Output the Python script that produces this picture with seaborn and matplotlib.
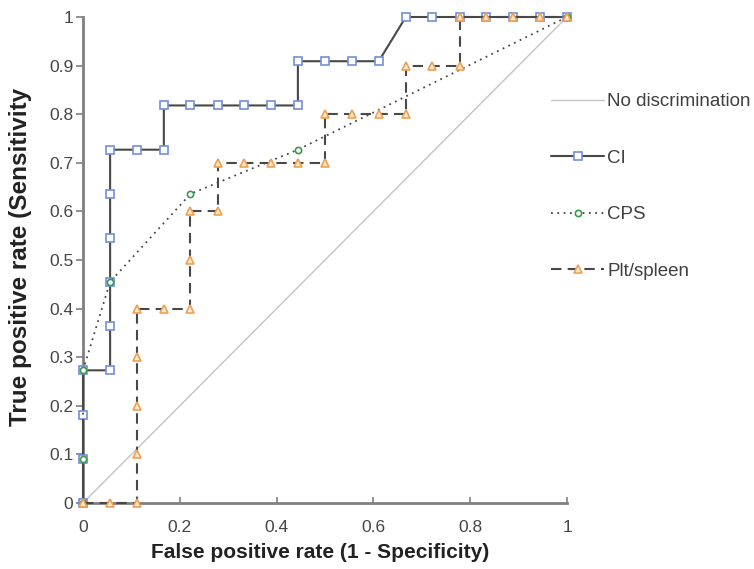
import matplotlib
matplotlib.use("Agg")
import matplotlib.pyplot as plt
import seaborn as sns
import pandas as pd
from matplotlib.ticker import FuncFormatter, FixedLocator

# ---- data ----
diag_fpr = [0.0, 1.0]
diag_tpr = [0.0, 1.0]

ci_fpr = [0.0, 0.0, 0.0, 0.0, 0.056, 0.056, 0.056, 0.056, 0.056, 0.056, 0.111, 0.167,
          0.167, 0.222, 0.278, 0.333, 0.389, 0.444, 0.444, 0.5, 0.556, 0.611, 0.667,
          0.722, 0.778, 0.833, 0.889, 0.944, 1.0]
ci_tpr = [0.0, 0.091, 0.182, 0.273, 0.273, 0.364, 0.455, 0.545, 0.636, 0.727, 0.727, 0.727,
          0.818, 0.818, 0.818, 0.818, 0.818, 0.818, 0.909, 0.909, 0.909, 0.909, 1.0,
          1.0, 1.0, 1.0, 1.0, 1.0, 1.0]

cps_fpr = [0.0, 0.0, 0.0, 0.056, 0.222, 0.444, 1.0]
cps_tpr = [0.0, 0.091, 0.273, 0.455, 0.636, 0.727, 1.0]

plt_fpr = [0.0, 0.056, 0.111, 0.111, 0.111, 0.111, 0.111, 0.167, 0.222, 0.222, 0.222,
           0.278, 0.278, 0.333, 0.389, 0.444, 0.5, 0.5, 0.556, 0.611, 0.667, 0.667,
           0.722, 0.778, 0.778, 0.833, 0.889, 0.944, 1.0]
plt_tpr = [0.0, 0.0, 0.0, 0.1, 0.2, 0.3, 0.4, 0.4, 0.4, 0.5, 0.6,
           0.6, 0.7, 0.7, 0.7, 0.7, 0.7, 0.8, 0.8, 0.8, 0.8, 0.9,
           0.9, 0.9, 1.0, 1.0, 1.0, 1.0, 1.0]

series_names = ["No discrimination", "CI", "CPS", "Plt/spleen"]
x_ticks = [0, 0.2, 0.4, 0.6, 0.8, 1]
y_ticks = [0, 0.1, 0.2, 0.3, 0.4, 0.5, 0.6, 0.7, 0.8, 0.9, 1]
x_label = "False positive rate (1 - Specificity)"
y_label = "True positive rate (Sensitivity"

def frame(name, xs, ys):
    return pd.DataFrame({"fpr": xs, "tpr": ys, "series": name, "order": range(len(xs))})

df = pd.concat([
    frame(series_names[0], diag_fpr, diag_tpr),
    frame(series_names[1], ci_fpr, ci_tpr),
    frame(series_names[2], cps_fpr, cps_tpr),
    frame(series_names[3], plt_fpr, plt_tpr),
], ignore_index=True)

sns.set_theme(style="white")
plt.rcParams["font.family"] = ["Liberation Sans", "DejaVu Sans"]

fig = plt.figure(figsize=(7.54, 5.69), dpi=100)
ax = fig.add_axes([83/754, 1-503/569, (567-83)/754, (503-17)/569])

line_gray = "#484848"
styles = {
    "No discrimination": dict(color="#c4c4c4", lw=1.0, ls="-", marker=None),
    "CI": dict(color=line_gray, lw=1.5, ls="-", marker="s", ms=5.5, mec="#7090d8", mfc="white", mew=1.2),
    "CPS": dict(color=line_gray, lw=1.3, ls=(0, (1, 2.5)), marker="o", ms=4.5, mec="#3a9a4a", mfc="white", mew=1.2),
    "Plt/spleen": dict(color=line_gray, lw=1.5, ls=(0, (5, 3)), marker="^", ms=5.5, mec="#f0a050", mfc="#fde8d0", mew=1.2),
}

for name in series_names:
    sub = df[df["series"] == name]
    st = styles[name]
    sns.lineplot(data=sub, x="fpr", y="tpr", ax=ax, sort=False, estimator=None,
                 color=st["color"], linewidth=st["lw"], label=name)
    ln = ax.lines[-1]
    ln.set_linestyle(st["ls"])
    ln.set_clip_on(False)
    if st["marker"]:
        ln.set_marker(st["marker"])
        ln.set_markersize(st["ms"])
        ln.set_markeredgecolor(st["mec"])
        ln.set_markerfacecolor(st["mfc"])
        ln.set_markeredgewidth(st["mew"])
    ln.set_zorder({"No discrimination": 1, "CI": 3, "CPS": 4, "Plt/spleen": 5}[name])

ax.set_xlim(0, 1)
ax.set_ylim(0, 1)
ax.xaxis.set_major_locator(FixedLocator(x_ticks))
ax.yaxis.set_major_locator(FixedLocator(y_ticks))
fmt = FuncFormatter(lambda v, p: "0" if abs(v) < 1e-9 else ("1" if abs(v-1) < 1e-9 else f"{v:.1f}"))
ax.xaxis.set_major_formatter(fmt)
ax.yaxis.set_major_formatter(fmt)

for s in ["top", "right"]:
    ax.spines[s].set_visible(False)
for s in ["left", "bottom"]:
    ax.spines[s].set_color("#808080")
    ax.spines[s].set_linewidth(2.0)

ax.tick_params(axis="x", direction="in", length=4, width=1.2, color="#808080",
               labelsize=12.5, labelcolor="#454545", pad=12, bottom=True)
ax.tick_params(axis="y", direction="out", length=5, width=1.2, color="#808080",
               labelsize=12.5, labelcolor="#454545", pad=2, left=True)
ax.set_xlabel("")
ax.set_ylabel("")

fig.text(320/754, 1-553/569, x_label, ha="center", va="center", fontsize=15,
         fontweight="bold", color="#222222")
fig.text(21/754, 1-426/569, y_label, ha="center", va="bottom", rotation=90,
         fontsize=17.5, fontweight="bold", color="#222222")

leg = ax.legend(loc="upper left", bbox_to_anchor=(551/754, 1-93/569),
                bbox_transform=fig.transFigure, frameon=False, fontsize=13.5,
                handlelength=2.83, handletextpad=0.18, labelspacing=2.1,
                borderaxespad=0, borderpad=0)
for t in leg.get_texts():
    t.set_color("#404040")

fig.savefig("out.png", dpi=100)
